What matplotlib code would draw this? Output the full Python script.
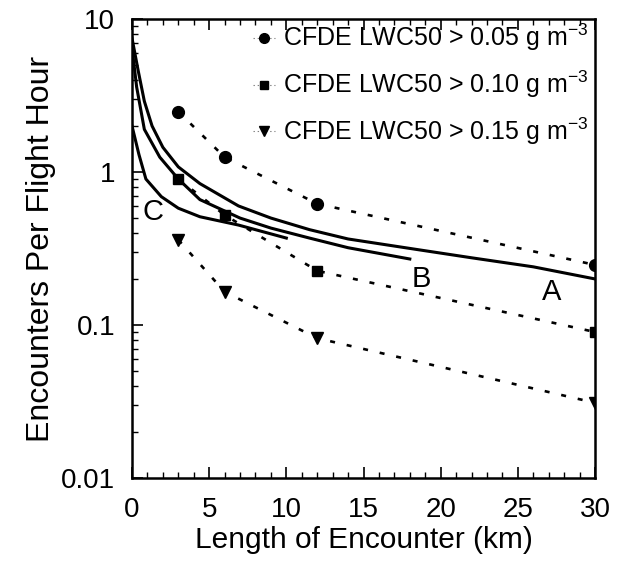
import matplotlib
matplotlib.use("Agg")
import matplotlib.pyplot as plt
from matplotlib.lines import Line2D
from matplotlib.ticker import MultipleLocator, LogLocator, NullFormatter, FixedLocator, FixedFormatter

plt.rcParams['font.family'] = ['Liberation Sans', 'DejaVu Sans']
plt.rcParams['mathtext.fontset'] = 'custom'
plt.rcParams['mathtext.rm'] = 'Liberation Sans'
plt.rcParams['mathtext.it'] = 'Liberation Sans:italic'
plt.rcParams['lines.scale_dashes'] = False

# CFDE points
cfde_x = [3, 6, 12, 30]
lwc05 = [2.48, 1.25, 0.62, 0.247]
lwc10 = [0.90, 0.524, 0.226, 0.090]
lwc15 = [0.36, 0.165, 0.082, 0.031]

# Curves A, B, C
a_x = [0, 0.4, 0.8, 1.3, 2.0, 3.0, 4.4, 6.9, 9.0, 11.5, 14.0, 18.6, 22.0, 26.0, 30.0]
a_y = [7.5, 4.6, 2.9, 2.0, 1.45, 1.08, 0.84, 0.60, 0.50, 0.42, 0.365, 0.31, 0.275, 0.24, 0.20]
b_x = [0, 0.3, 0.8, 1.8, 3.0, 4.4, 7.0, 9.0, 11.5, 14.0, 18.0]
b_y = [6.5, 3.6, 1.9, 1.25, 0.90, 0.66, 0.50, 0.43, 0.37, 0.32, 0.27]
c_x = [0, 0.45, 0.9, 1.9, 3.0, 4.4, 6.9, 10.0]
c_y = [2.0, 1.3, 0.90, 0.69, 0.58, 0.51, 0.45, 0.37]

curve_labels = ['A', 'B', 'C']
label_x = [27.2, 18.75, 1.36]
label_y = [0.165, 0.20, 0.55]

legend_labels = [r'CFDE LWC50 > 0.05 g m$^{\mathrm{-3}}$',
                 r'CFDE LWC50 > 0.10 g m$^{\mathrm{-3}}$',
                 r'CFDE LWC50 > 0.15 g m$^{\mathrm{-3}}$']

xticks = [0, 5, 10, 15, 20, 25, 30]
yticks = [0.01, 0.1, 1, 10]
ytick_labels = ['0.01', '0.1', '1', '10']

fig = plt.figure(figsize=(6.23, 5.69), dpi=100)
ax = fig.add_axes([132/623, 1-478/569, (595-132)/623, (478-19)/569])

dash = (3.6, 8.6)
lw_dot = 1.9
ax.plot(cfde_x, lwc05, color='black', lw=lw_dot, dashes=dash, marker='o', ms=8.5)
ax.plot(cfde_x, lwc10, color='black', lw=lw_dot, dashes=dash, marker='s', ms=7.5)
ax.plot(cfde_x, lwc15, color='black', lw=lw_dot, dashes=dash, marker='v', ms=8.5)

for cx, cy in [(a_x, a_y), (b_x, b_y), (c_x, c_y)]:
    ax.plot(cx, cy, color='black', lw=2.2, solid_joinstyle='round')

for t, lx, ly in zip(curve_labels, label_x, label_y):
    ax.text(lx, ly, t, fontsize=21, ha='center', va='center')

ax.set_yscale('log')
ax.set_xlim(0, 30)
ax.set_ylim(0.01, 10)

ax.xaxis.set_major_locator(FixedLocator(xticks))
ax.xaxis.set_minor_locator(MultipleLocator(1))
ax.yaxis.set_major_locator(FixedLocator(yticks))
ax.yaxis.set_major_formatter(FixedFormatter(ytick_labels))
ax.yaxis.set_minor_locator(LogLocator(base=10, subs=range(2, 10)))
ax.yaxis.set_minor_formatter(NullFormatter())

ax.tick_params(axis='both', which='major', direction='in', length=8, width=1.2, labelsize=20)
ax.tick_params(axis='both', which='minor', direction='in', length=4, width=1.0)
ax.tick_params(axis='x', which='both', top=True, pad=14)
ax.tick_params(axis='y', which='both', right=False, pad=12)

for s in ax.spines.values():
    s.set_linewidth(1.8)

ax.set_xlabel('Length of Encounter (km)', fontsize=21.5, labelpad=2)
ax.set_ylabel('Encounters Per Flight Hour', fontsize=23, labelpad=4)

handles = [
    Line2D([0], [0], color='gray', lw=0.8, dashes=(1, 2), marker='o', ms=7, mfc='black', mec='black'),
    Line2D([0], [0], color='gray', lw=0.8, dashes=(1, 2), marker='s', ms=6, mfc='black', mec='black'),
    Line2D([0], [0], color='gray', lw=0.8, dashes=(1, 2), marker='v', ms=7, mfc='black', mec='black'),
]
ax.legend(handles, legend_labels, loc='upper right', frameon=False, fontsize=18,
          handlelength=0.9, handletextpad=0.3, labelspacing=0.62,
          borderaxespad=0.0, borderpad=0.0, bbox_to_anchor=(0.985, 0.9935))

fig.savefig('out.png', dpi=100)
